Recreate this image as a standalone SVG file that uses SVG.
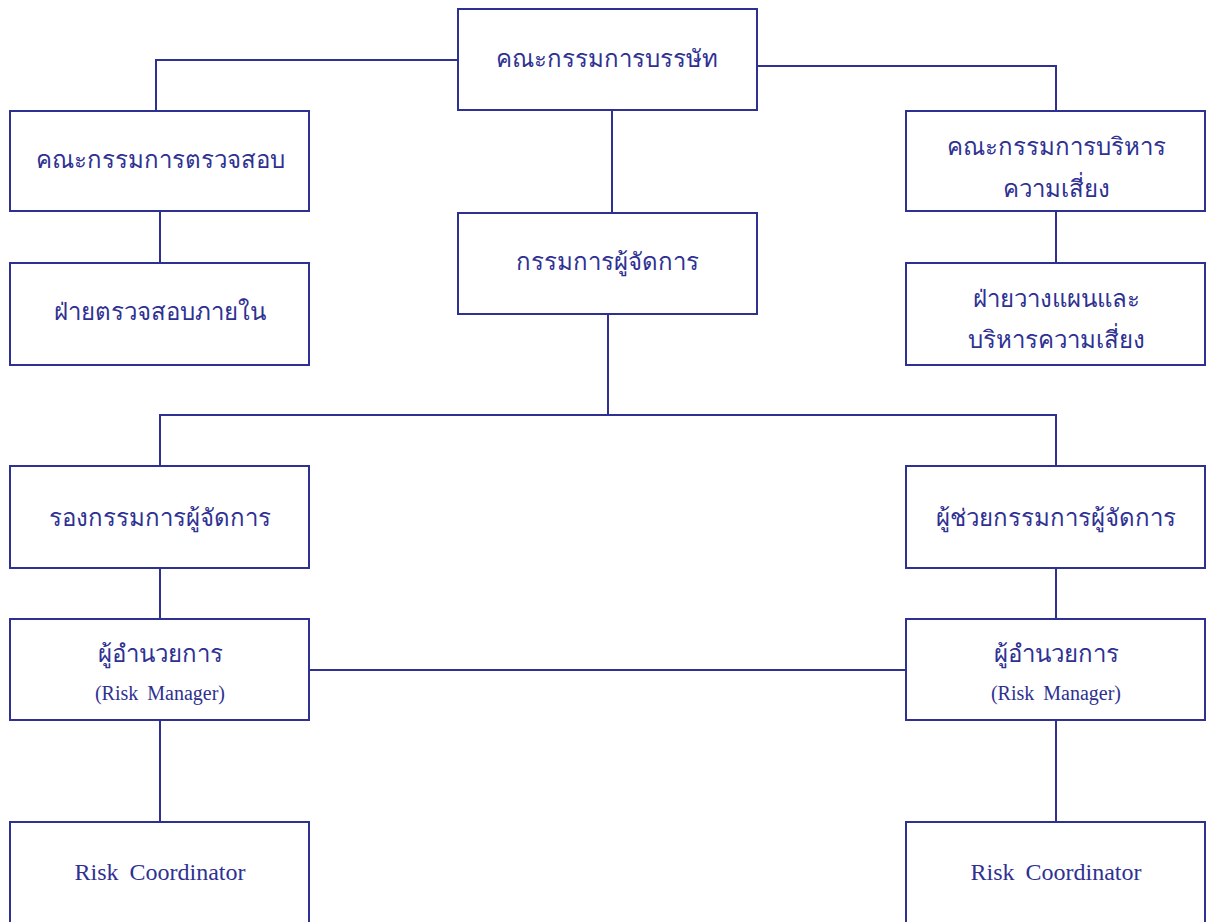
<svg xmlns="http://www.w3.org/2000/svg" width="1212" height="922" viewBox="0 0 1212 922">
<style>
.box{fill:#fff;stroke:#2e3192;stroke-width:2}
.ln{fill:none;stroke:#2e3192;stroke-width:2}
.th{font-family:"Liberation Serif","DejaVu Serif","Noto Sans",serif;font-size:24px;fill:#2e3192;text-anchor:middle}
.en{font-family:"Liberation Serif",serif;font-size:24px;fill:#2e3192;text-anchor:middle;word-spacing:5px}
.sm{font-family:"Liberation Serif",serif;font-size:20px;fill:#2e3192;text-anchor:middle;word-spacing:4px}
</style>
<rect width="1212" height="922" fill="#fff"/>
<g id="connectors">
<path class="ln" d="M458 60H156V111"/>
<path class="ln" d="M757 66H1056V111"/>
<path class="ln" d="M612 110V213"/>
<path class="ln" d="M160 211V263"/>
<path class="ln" d="M1056 211V263"/>
<path class="ln" d="M608 314V415"/>
<path class="ln" d="M160 466V415H1056V466"/>
<path class="ln" d="M160 568V619"/>
<path class="ln" d="M1056 568V619"/>
<path class="ln" d="M309 670H906"/>
<path class="ln" d="M160 720V822"/>
<path class="ln" d="M1056 720V822"/>
</g>
<g id="board"><rect class="box" x="458" y="9" width="299" height="101"/><text class="th" x="607" y="67">คณะกรรมการบรรษัท</text></g>
<g id="audit-committee"><rect class="box" x="10" y="111" width="299" height="100"/><text class="th" x="160" y="168">คณะกรรมการตรวจสอบ</text></g>
<g id="internal-audit"><rect class="box" x="10" y="263" width="299" height="102"/><text class="th" x="160" y="320">ฝ่ายตรวจสอบภายใน</text></g>
<g id="risk-committee"><rect class="box" x="906" y="111" width="299" height="100"/><text class="th" x="1056" y="155">คณะกรรมการบริหาร</text><text class="th" x="1056" y="197">ความเสี่ยง</text></g>
<g id="risk-dept"><rect class="box" x="906" y="263" width="299" height="102"/><text class="th" x="1056" y="307">ฝ่ายวางแผนและ</text><text class="th" x="1056" y="348">บริหารความเสี่ยง</text></g>
<g id="md"><rect class="box" x="458" y="213" width="299" height="101"/><text class="th" x="607" y="270">กรรมการผู้จัดการ</text></g>
<g id="deputy-md"><rect class="box" x="10" y="466" width="299" height="102"/><text class="th" x="160" y="526">รองกรรมการผู้จัดการ</text></g>
<g id="assistant-md"><rect class="box" x="906" y="466" width="299" height="102"/><text class="th" x="1056" y="526">ผู้ช่วยกรรมการผู้จัดการ</text></g>
<g id="director-left"><rect class="box" x="10" y="619" width="299" height="101"/><text class="th" x="160" y="662">ผู้อำนวยการ</text><text class="sm" x="160" y="700">(Risk Manager)</text></g>
<g id="director-right"><rect class="box" x="906" y="619" width="299" height="101"/><text class="th" x="1056" y="662">ผู้อำนวยการ</text><text class="sm" x="1056" y="700">(Risk Manager)</text></g>
<g id="coord-left"><rect class="box" x="10" y="822" width="299" height="120"/><text class="en" x="160" y="880">Risk Coordinator</text></g>
<g id="coord-right"><rect class="box" x="906" y="822" width="299" height="120"/><text class="en" x="1056" y="880">Risk Coordinator</text></g>
</svg>
